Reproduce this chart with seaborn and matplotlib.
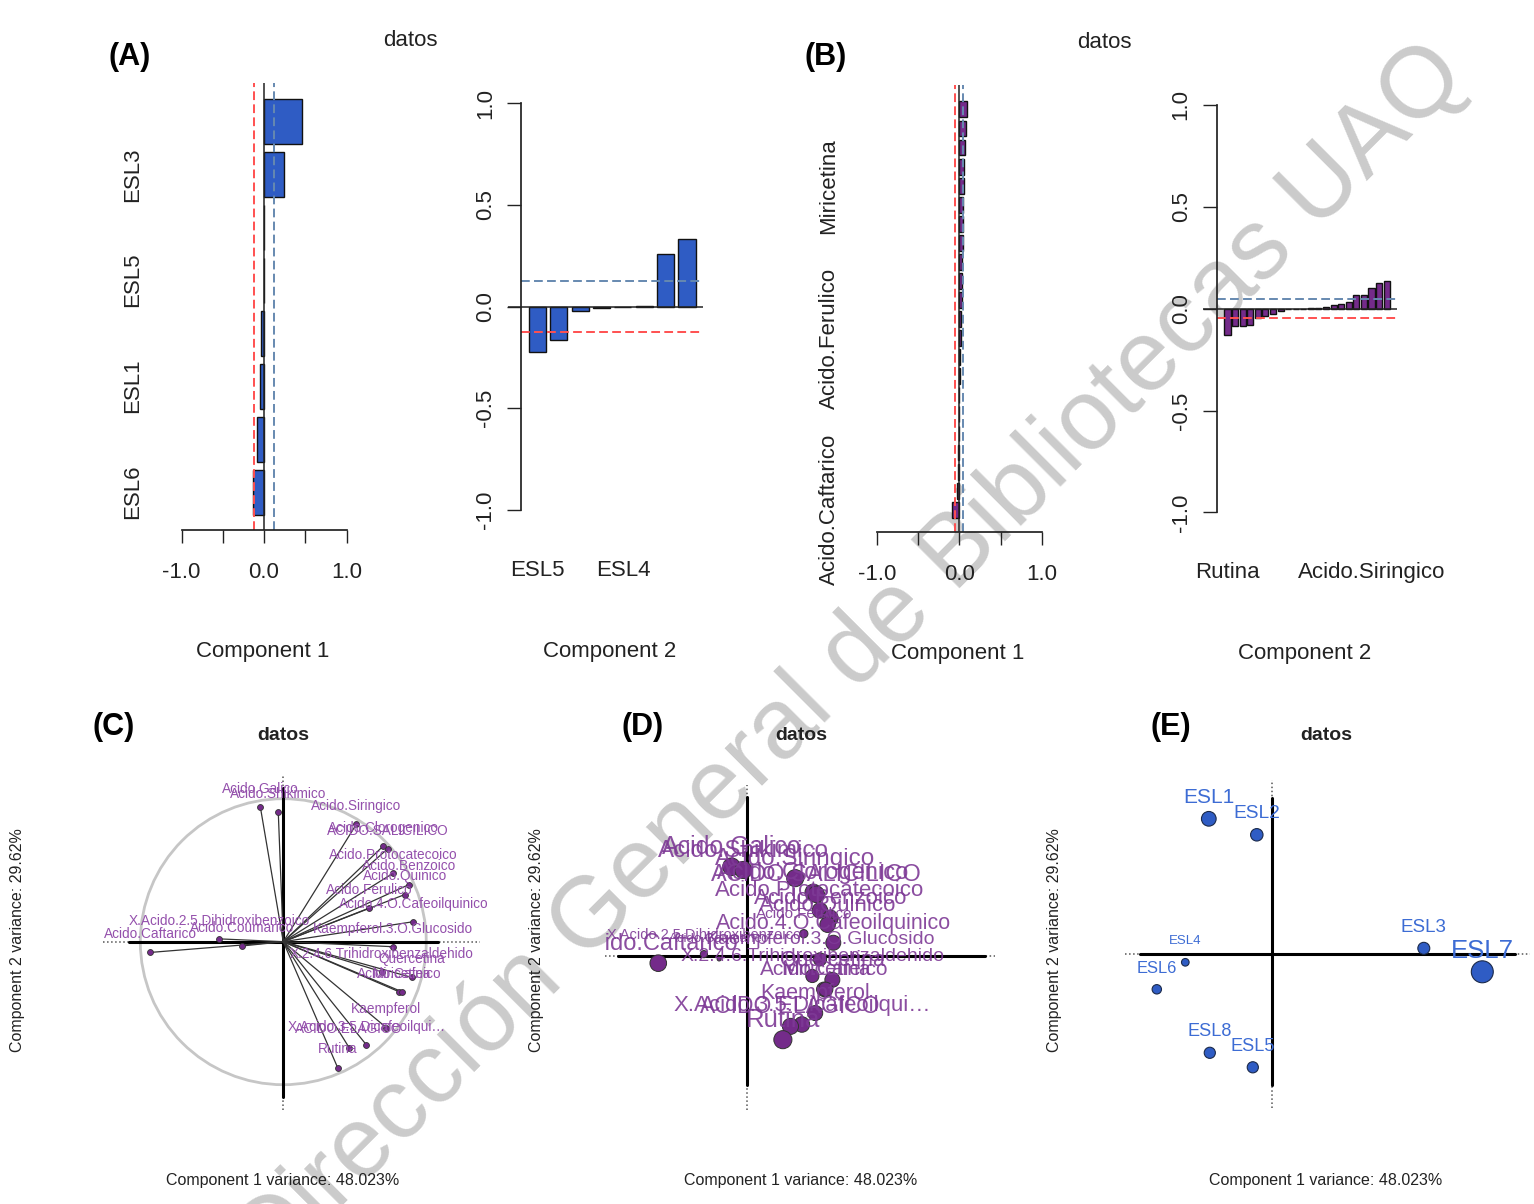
import numpy as np
import pandas as pd
import matplotlib
matplotlib.use("Agg")
import matplotlib.pyplot as plt
import matplotlib.transforms as mtrans
from matplotlib.patches import Circle
import seaborn as sns

# ---------------- data ----------------
# (A) sample loadings, component 1 (bars top -> bottom) and component 2 (left -> right)
samples_c1_names = ["ESL7", "ESL3", "ESL2", "ESL5", "ESL8", "ESL1", "ESL4", "ESL6"]
samples_c1_values = [0.457, 0.24, 0.003, 0.0, -0.036, -0.05, -0.085, -0.137]
samples_c1_shown = ["ESL3", "ESL5", "ESL1", "ESL6"]
samples_c2_names = ["ESL5", "ESL8", "ESL6", "ESL7", "ESL4", "ESL3", "ESL2", "ESL1"]
samples_c2_values = [-0.222, -0.166, -0.022, -0.007, 0.0, 0.002, 0.257, 0.33]
samples_c2_shown = ["ESL5", "ESL4"]
samples_c1_cut = 0.12
samples_c2_cut = 0.125

# (B) variable loadings, component 1 (bottom -> top) and component 2 (left -> right)
vars_c1_names = ["Acido.Caftarico", "X.Acido.2.5.Dihidroxibenzoico", "Acido.Coumarico", "Acido.Galico",
                 "Acido.Shikimico", "Rutina", "ACIDO.ELAGICO", "Acido.Siringico", "X.Acido.3.5.Dicafeoilqui…",
                 "Acido.Ferulico", "X.2.4.6.Trihidroxibenzaldehido", "Acido.Clorogenico", "Kaempferol",
                 "ACIDO.SALICILICO", "Acido.Protocatecoico", "Kaempferol.3.O.Glucosido", "Acido.Cafeico",
                 "Miricetina", "Acido.Quinico", "Acido.Benzoico", "Quercetina", "Acido.4.O.Cafeoilquinico"]
vars_c1_values = [-0.085, -0.025, -0.02, -0.015, -0.004, -0.002, 0.002, 0.004, 0.012, 0.016, 0.024,
                  0.028, 0.03, 0.034, 0.044, 0.046, 0.048, 0.06, 0.062, 0.064, 0.085, 0.088]
vars_c1_shown = ["Acido.Caftarico", "Acido.Ferulico", "Miricetina"]
vars_c2_names = ["Rutina", "ACIDO.ELAGICO", "X.Acido.3.5.Dicafeoilqui…", "Kaempferol", "Acido.Cafeico",
                 "Miricetina", "Quercetina", "X.2.4.6.Trihidroxibenzaldehido", "Acido.Caftarico",
                 "Kaempferol.3.O.Glucosido", "Acido.Coumarico", "X.Acido.2.5.Dihidroxibenzoico",
                 "Acido.4.O.Cafeoilquinico", "Acido.Ferulico", "Acido.Quinico", "Acido.Benzoico",
                 "Acido.Protocatecoico", "ACIDO.SALICILICO", "Acido.Clorogenico", "Acido.Siringico",
                 "Acido.Shikimico", "Acido.Galico"]
vars_c2_values = [-0.127, -0.085, -0.085, -0.08, -0.045, -0.035, -0.025, -0.01, -0.003, -0.002, 0.0,
                  0.001, 0.003, 0.008, 0.017, 0.025, 0.034, 0.065, 0.065, 0.10, 0.127, 0.136]
vars_c2_shown = ["Rutina", "Acido.Siringico"]
vars_c1_cut = 0.05
vars_c2_cut = 0.045

# (C, D) variable coordinates on the first two components and representation quality
var_names = ["Acido.Galico", "Acido.Shikimico", "Acido.Siringico", "Acido.Clorogenico", "ACIDO.SALICILICO",
             "Acido.Protocatecoico", "Acido.Benzoico", "Acido.Quinico", "Acido.Ferulico",
             "Acido.4.O.Cafeoilquinico", "Kaempferol.3.O.Glucosido", "X.2.4.6.Trihidroxibenzaldehido",
             "Quercetina", "Acido.Cafeico", "Miricetina", "Kaempferol", "X.Acido.3.5.Dicafeoilqui…",
             "ACIDO.ELAGICO", "Rutina", "X.Acido.2.5.Dihidroxibenzoico", "Acido.Coumarico", "Acido.Caftarico"]
var_dim1 = [-0.16, -0.035, 0.51, 0.70, 0.73, 0.77, 0.88, 0.85, 0.60, 0.91, 0.77, 0.69, 0.90, 0.81, 0.83,
            0.72, 0.58, 0.46, 0.38, -0.45, -0.29, -0.93]
var_dim2 = [0.94, 0.906, 0.82, 0.67, 0.65, 0.48, 0.40, 0.33, 0.235, 0.14, -0.035, -0.21, -0.25, -0.35, -0.35,
            -0.60, -0.72, -0.74, -0.88, 0.02, -0.03, -0.075]
var_quality = [9.5, 9.0, 9.0, 8.5, 8.5, 7.5, 7.5, 7.5, 2.5, 7.0, 5.5, 5.5, 7.0, 6.5, 6.5, 7.0, 7.5, 8.0,
               10.0, 2.0, 1.0, 8.5]

# (E) individuals
ind_names = ["ESL1", "ESL2", "ESL3", "ESL4", "ESL5", "ESL6", "ESL7", "ESL8"]
ind_dim1 = [-1.27, -0.31, 3.03, -1.74, -0.39, -2.31, 4.2, -1.25]
ind_dim2 = [2.71, 2.39, 0.12, -0.16, -2.26, -0.70, -0.35, -1.97]
ind_contrib = [16, 11, 10, 3, 8.5, 5.5, 38, 8.5]

panel_title = "datos"
xlab_bottom = "Component 1 variance: 48.023%"
ylab_bottom = "Component 2 variance: 29.62%"

# ---------------- style ----------------
sns.set_theme(style="white")
plt.rcParams["font.family"] = ["Liberation Sans", "DejaVu Sans"]

BLUE = "#2F5CC4"
PURPLE = "#742B8A"
EDGE = "#111111"
AXC = "#222222"
RED = "#FF5050"
STEEL = "#6689B0"
DASH = (0, (4.5, 2.2))
TXT_P_C = "#9450AC"
TXT_P_D = "#7E3A96"
TXT_B = "#3D6CD4"
FS_TOP = 16

W, H = 1534, 1204
fig = plt.figure(figsize=(W / 100, H / 100), dpi=100)
fig.patch.set_facecolor("white")


def px_axes(x0, y0, x1, y1):
    ax = fig.add_axes([x0 / W, 1 - y1 / H, (x1 - x0) / W, (y1 - y0) / H])
    ax.set_facecolor("none")
    for s in ax.spines.values():
        s.set_visible(False)
    return ax


def ftext(x, y, s, **kw):
    kw.setdefault("ha", "center")
    kw.setdefault("va", "center")
    fig.text(x / W, 1 - y / H, s, **kw)


# watermark (behind everything)
ftext(852, 660, "Dirección General de Bibliotecas UAQ", rotation=45, fontsize=72,
      color="#cbcbcb", zorder=-5)

# ---------- (A) component 1 : horizontal bars ----------
axA1 = px_axes(150, 82.5, 372, 530)
dfA1 = pd.DataFrame({"name": samples_c1_names, "value": samples_c1_values})
sns.barplot(data=dfA1, x="value", y="name", order=samples_c1_names, orient="h", color=BLUE,
            saturation=1, edgecolor=EDGE, linewidth=1, width=0.85, ax=axA1)
axA1.set_xlim(-1.382, 1.309)
axA1.set_ylim(7.717, -0.733)
axA1.axvline(0, color=AXC, lw=1.1, zorder=1)
axA1.axvline(-samples_c1_cut, color=RED, ls=DASH, lw=1.4)
axA1.axvline(samples_c1_cut, color=STEEL, ls=DASH, lw=1.4)
axA1.spines["bottom"].set_visible(True)
axA1.spines["bottom"].set_bounds(-1, 1)
axA1.spines["bottom"].set_color(AXC)
axA1.set_xticks([-1, -0.5, 0, 0.5, 1])
axA1.set_xticklabels(["-1.0", "", "0.0", "", "1.0"])
axA1.set_yticks([])
axA1.tick_params(axis="x", length=9, width=1, pad=14, labelsize=FS_TOP, colors=AXC, bottom=True)
axA1.set_xlabel("")
axA1.set_ylabel("")
tr = mtrans.blended_transform_factory(fig.transFigure, axA1.transData)
for nm in samples_c1_shown:
    axA1.text(133 / W, samples_c1_names.index(nm), nm, transform=tr, rotation=90,
              ha="center", va="center", fontsize=FS_TOP, color=AXC)

# ---------- (A) component 2 : vertical bars ----------
axA2 = px_axes(508, 103.2, 703, 510)
dfA2 = pd.DataFrame({"name": samples_c2_names, "value": samples_c2_values})
sns.barplot(data=dfA2, x="name", y="value", order=samples_c2_names, color=BLUE, saturation=1,
            edgecolor=EDGE, linewidth=1, width=0.8, ax=axA2)
axA2.set_xlim(-1.38, 7.75)
axA2.set_ylim(-1, 1)
axA2.axhline(0, color=AXC, lw=1.1, zorder=1)
axA2.axhline(samples_c2_cut, xmin=0.0667, xmax=1, color=STEEL, ls=DASH, lw=1.4)
axA2.axhline(-samples_c2_cut, xmin=0.0667, xmax=1, color=RED, ls=DASH, lw=1.4)
axA2.spines["left"].set_visible(True)
axA2.spines["left"].set_position(("axes", 0.0667))
axA2.spines["left"].set_bounds(-1, 1)
axA2.spines["left"].set_color(AXC)
axA2.set_yticks([-1, -0.5, 0, 0.5, 1])
axA2.set_yticklabels(["-1.0", "-0.5", "0.0", "0.5", "1.0"], rotation=90, va="center")
axA2.tick_params(axis="y", length=10, width=1, pad=8, labelsize=FS_TOP, colors=AXC, left=True)
axA2.set_xticks([])
axA2.set_xlabel("")
axA2.set_ylabel("")
tr = mtrans.blended_transform_factory(axA2.transData, fig.transFigure)
for nm in samples_c2_shown:
    axA2.text(samples_c2_names.index(nm), 1 - 570 / H, nm, transform=tr, ha="center",
              va="center", fontsize=FS_TOP, color=AXC)

# ---------- (B) component 1 ----------
vars_c1_top = vars_c1_names[::-1]
vals_c1_top = vars_c1_values[::-1]
axB1 = px_axes(845, 84.9, 1070, 531.7)
dfB1 = pd.DataFrame({"name": vars_c1_top, "value": vals_c1_top})
sns.barplot(data=dfB1, x="value", y="name", order=vars_c1_top, orient="h", color=PURPLE,
            saturation=1, edgecolor=EDGE, linewidth=1, width=0.833, ax=axB1)
axB1.set_xlim(-1.387, 1.343)
axB1.set_ylim(22.154, -1.285)
axB1.axvline(0, color=AXC, lw=1.1, zorder=1)
axB1.axvline(-vars_c1_cut, color=RED, ls=DASH, lw=1.4)
axB1.axvline(vars_c1_cut, color=STEEL, ls=DASH, lw=1.4)
axB1.spines["bottom"].set_visible(True)
axB1.spines["bottom"].set_bounds(-1, 1)
axB1.spines["bottom"].set_color(AXC)
axB1.set_xticks([-1, -0.5, 0, 0.5, 1])
axB1.set_xticklabels(["-1.0", "", "0.0", "", "1.0"])
axB1.set_yticks([])
axB1.tick_params(axis="x", length=9, width=1, pad=14, labelsize=FS_TOP, colors=AXC, bottom=True)
axB1.set_xlabel("")
axB1.set_ylabel("")
tr = mtrans.blended_transform_factory(fig.transFigure, axB1.transData)
for nm in vars_c1_shown:
    axB1.text(829 / W, vars_c1_top.index(nm), nm, transform=tr, rotation=90,
              ha="center", va="center", fontsize=FS_TOP, color=AXC)

# ---------- (B) component 2 ----------
axB2 = px_axes(1203, 104.9, 1397, 512.4)
dfB2 = pd.DataFrame({"name": vars_c2_names, "value": vars_c2_values})
sns.barplot(data=dfB2, x="name", y="value", order=vars_c2_names, color=PURPLE, saturation=1,
            edgecolor=EDGE, linewidth=1, width=0.8, ax=axB2)
axB2.set_xlim(-3.23, 22.36)
axB2.set_ylim(-1, 1)
axB2.axhline(0, color=AXC, lw=1.1, zorder=1)
axB2.axhline(vars_c2_cut, xmin=0.0706, xmax=1, color=STEEL, ls=DASH, lw=1.4)
axB2.axhline(-vars_c2_cut, xmin=0.0706, xmax=1, color=RED, ls=DASH, lw=1.4)
axB2.spines["left"].set_visible(True)
axB2.spines["left"].set_position(("axes", 0.0706))
axB2.spines["left"].set_bounds(-1, 1)
axB2.spines["left"].set_color(AXC)
axB2.set_yticks([-1, -0.5, 0, 0.5, 1])
axB2.set_yticklabels(["-1.0", "-0.5", "0.0", "0.5", "1.0"], rotation=90, va="center")
axB2.tick_params(axis="y", length=10, width=1, pad=8, labelsize=FS_TOP, colors=AXC, left=True)
axB2.set_xticks([])
axB2.set_xlabel("")
axB2.set_ylabel("")
tr = mtrans.blended_transform_factory(axB2.transData, fig.transFigure)
for nm in vars_c2_shown:
    axB2.text(vars_c2_names.index(nm), 1 - 573 / H, nm, transform=tr, ha="center",
              va="center", fontsize=FS_TOP, color=AXC)

# top texts
ftext(130, 57, "(A)", fontsize=22, fontweight="bold", color="black")
ftext(826, 57, "(B)", fontsize=22, fontweight="bold", color="black")
ftext(410, 40, panel_title, fontsize=FS_TOP, color=AXC)
ftext(1104, 42, panel_title, fontsize=FS_TOP, color=AXC)
ftext(263, 651, "Component 1", fontsize=FS_TOP, color=AXC)
ftext(610, 651, "Component 2", fontsize=FS_TOP, color=AXC)
ftext(958, 654, "Component 1", fontsize=FS_TOP, color=AXC)
ftext(1305, 654, "Component 2", fontsize=FS_TOP, color=AXC)

# ---------- (C) correlation circle ----------
dfv = pd.DataFrame({"name": var_names, "dim1": var_dim1, "dim2": var_dim2, "quality": var_quality})
axC = px_axes(103, 775, 480, 1110)
axC.set_xlim(-1.261, 1.376)
axC.set_ylim(-1.177, 1.166)
axC.axhline(0, color="#555555", ls=":", lw=1.1)
axC.axvline(0, color="#555555", ls=":", lw=1.1)
axC.add_patch(Circle((0, 0), 1, fill=False, ec="#c6c6c6", lw=2))
axC.plot([-1.08, 1.08], [0, 0], color="black", lw=2.2)
axC.plot([0, 0], [-1.086, 1.075], color="black", lw=2.2)
for x, y in zip(dfv["dim1"], dfv["dim2"]):
    axC.plot([0, x], [0, y], color="#333333", lw=0.9)
sns.scatterplot(data=dfv, x="dim1", y="dim2", color=PURPLE, edgecolor="#333333", linewidth=0.6,
                s=18, legend=False, ax=axC, zorder=4)
for _, r in dfv.iterrows():
    axC.annotate(r["name"], (r["dim1"], r["dim2"]), xytext=(0, 13), textcoords="offset points",
                 ha="center", va="center", fontsize=9.8, color=TXT_P_C, zorder=5)
axC.set_xticks([]); axC.set_yticks([]); axC.set_xlabel(""); axC.set_ylabel("")

# ---------- (D) variables sized by quality ----------
axD = px_axes(605, 785, 995, 1110)
axD.set_xlim(-1.49, 2.61)
axD.set_ylim(-1.62, 1.80)
axD.axhline(0, color="#555555", ls=":", lw=1.1)
axD.axvline(0, color="#555555", ls=":", lw=1.1)
axD.plot([-1.355, 2.51], [0, 0], color="black", lw=2.2)
axD.plot([0, 0], [-1.36, 1.67], color="black", lw=2.2)
sns.scatterplot(data=dfv, x="dim1", y="dim2", size="quality", sizes=(9, 170), color=PURPLE,
                edgecolor="#333333", linewidth=0.7, legend=False, ax=axD, zorder=4)
qmin, qmax = min(var_quality), max(var_quality)
for _, r in dfv.iterrows():
    fs = 9.5 + (r["quality"] - qmin) / (qmax - qmin) * 9
    t = axD.annotate(r["name"], (r["dim1"], r["dim2"]), xytext=(0, 14), textcoords="offset points",
                     ha="center", va="center", fontsize=fs, color=TXT_P_D, alpha=0.9, zorder=5)
    t.set_clip_on(True)
    t.set_clip_box(axD.bbox)
axD.set_xticks([]); axD.set_yticks([]); axD.set_xlabel(""); axD.set_ylabel("")

# ---------- (E) individuals ----------
dfi = pd.DataFrame({"name": ind_names, "dim1": ind_dim1, "dim2": ind_dim2, "contrib": ind_contrib})
axE = px_axes(1125, 780, 1530, 1108)
axE.set_xlim(-2.946, 5.154)
axE.set_ylim(-3.074, 3.486)
axE.axhline(0, color="#555555", ls=":", lw=1.1)
axE.axvline(0, color="#555555", ls=":", lw=1.1)
axE.plot([-2.65, 4.85], [0, 0], color="black", lw=2.2)
axE.plot([0, 0], [-2.62, 3.13], color="black", lw=2.2)
sns.scatterplot(data=dfi, x="dim1", y="dim2", size="contrib", sizes=(30, 250), color=BLUE,
                edgecolor="#1b2a4a", linewidth=0.8, legend=False, ax=axE, zorder=4)
cmin, cmax = min(ind_contrib), max(ind_contrib)
for _, r in dfi.iterrows():
    fs = 9.5 + 9 * np.sqrt((r["contrib"] - cmin) / (cmax - cmin))
    axE.annotate(r["name"], (r["dim1"], r["dim2"]), xytext=(0, 15), textcoords="offset points",
                 ha="center", va="center", fontsize=fs, color=TXT_B, zorder=5)
axE.set_xticks([]); axE.set_yticks([]); axE.set_xlabel(""); axE.set_ylabel("")

# bottom texts
ftext(114, 727, "(C)", fontsize=22, fontweight="bold", color="black")
ftext(643, 727, "(D)", fontsize=22, fontweight="bold", color="black")
ftext(1171, 727, "(E)", fontsize=22, fontweight="bold", color="black")
for cx in (283, 801, 1326):
    ftext(cx, 735, panel_title, fontsize=14, fontweight="bold", color=AXC)
    ftext(cx, 1180, xlab_bottom, fontsize=11.5, color=AXC)
for yx in (18, 537, 1055):
    ftext(yx, 940, ylab_bottom, fontsize=11.5, rotation=90, color=AXC)

fig.savefig("out.png", dpi=100, facecolor="white")
